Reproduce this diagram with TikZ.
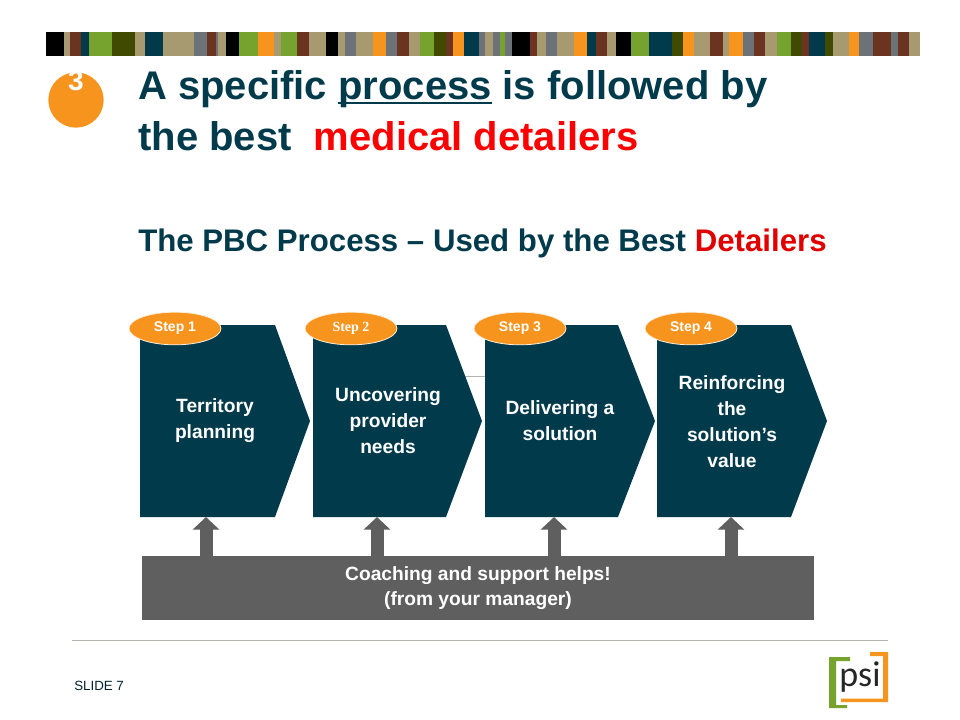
\documentclass[tikz,border=0pt]{standalone}
\usepackage{fontspec}
\setmainfont{Liberation Sans}
\newfontfamily\serifbold{Liberation Serif}
\newfontfamily\logofont{Carlito}
\usetikzlibrary{arrows.meta}
\definecolor{teal}{HTML}{003A4B}
\definecolor{orng}{HTML}{F7941E}
\definecolor{grn}{HTML}{76A32D}
\definecolor{olv}{HTML}{404A00}
\definecolor{brn}{HTML}{6B3420}
\definecolor{tan}{HTML}{A89A70}
\definecolor{gry}{HTML}{6C7378}
\definecolor{darkgr}{HTML}{5F5F5F}
\definecolor{rulegr}{HTML}{B5B5B0}
\newcommand{\fs}[1]{\fontsize{#1*0.75pt}{#1*0.75pt}\selectfont}
\newcommand{\ulword}[1]{{\setbox0\hbox{#1}\rlap{\rule[-0.11em]{\wd0}{0.065em}}\box0}}
\tikzset{
  chevronshape/.style={fill=teal,draw=none},
  chevlabel/.style={text=white,font=\bfseries\fontsize{14.4pt}{19.5pt}\selectfont,align=center,inner sep=0pt},
  stepoval/.style={ellipse,fill=orng,draw=white!85!orng,line width=0.6pt,minimum width=69pt,minimum height=24.5pt,inner sep=0pt,text=white},
  blockarrow/.style={draw=darkgr,line width=9.75pt,-{Triangle[length=9.5pt,width=19.5pt,fill=darkgr]}},
  titletext/.style={anchor=base west,inner sep=0pt,text=teal,font=\bfseries\fontsize{30pt}{36pt}\selectfont},
}
\usetikzlibrary{shapes.geometric}
\begin{document}
\begin{tikzpicture}[x=0.75pt,y=-0.75pt]
\useasboundingbox (0,0) rectangle (960,720);
\fill[white] (0,0) rectangle (960,720);
% stripe bar
\def\prevx{46}
\foreach \c/\e in {black/64,tan/70,brn/81,teal/89,grn/112,olv/135,tan/145,teal/163,tan/194,gry/207,brn/216,gry/218,tan/226,black/239,grn/258,orng/274,tan/281,grn/297,brn/309,tan/326,black/338,tan/345,gry/356,tan/373,orng/386,gry/397,brn/409,tan/420,grn/434,olv/446,brn/453,orng/464,teal/479,gry/485,tan/493,gry/500,grn/505,gry/512,black/530,brn/537,tan/546,gry/557,tan/574,orng/587,teal/596,brn/607,tan/616,black/631,grn/649,teal/672,olv/683,orng/694,tan/710,brn/723,tan/729,orng/743,gry/754,brn/765,tan/777,grn/791,olv/802,brn/809,teal/825,olv/833,tan/849,orng/859,gry/873,brn/891,gry/898,brn/909,tan/920}{
  \fill[\c] (\prevx,32) rectangle (\e,56);
  \global\let\prevx\e
}
% number badge
\node[circle,fill=orng,minimum size=41.5pt,inner sep=0pt] (badge) at (76,100) {};
\node[anchor=base,inner sep=0pt,text=white,font=\bfseries\fontsize{21pt}{24pt}\selectfont] (num) at (76,91) {3};
% titles
\node[titletext] (t1) at (138,100) {A specific \ulword{process} is followed by};
\node[titletext] (t2) at (138,151) {the best\ \ \textcolor{red}{medical detailers}};
\node[titletext,font=\bfseries\fontsize{23.4pt}{28pt}\selectfont] (t3) at (138,252) {The PBC Process -- Used by the Best \textcolor{red!88!black}{Detailers}};
% thin line behind chevrons
\coordinate (la) at (460,376);
\coordinate (lb) at (490,376);
\draw[rulegr,line width=0.6pt] (la) -- (lb);
% chevrons
\fill[chevronshape] (140,325) -- (275,325) -- (310,421) -- (275,517) -- (140,517) -- cycle;
\fill[chevronshape] (313,325) -- (446,325) -- (482,421) -- (446,517) -- (313,517) -- cycle;
\fill[chevronshape] (485,325) -- (618,325) -- (655,421) -- (618,517) -- (485,517) -- cycle;
\fill[chevronshape] (657,325) -- (791,325) -- (827,421) -- (791,517) -- (657,517) -- cycle;
\node[chevlabel] (c1) at (215,421) {Territory\\planning};
\node[chevlabel] (c2) at (388,421) {Uncovering\\provider\\needs};
\node[chevlabel] (c3) at (560,421) {Delivering a\\solution};
\node[chevlabel] (c4) at (732,422) {Reinforcing\\the\\solution’s\\value};
% step ovals
\node[stepoval,font=\bfseries\fontsize{10.5pt}{12pt}\selectfont] (s1) at (175,328.5) {Step 1};
\node[stepoval,font=\serifbold\bfseries\fontsize{10.5pt}{12pt}\selectfont] (s2) at (351,328.5) {Step 2};
\node[stepoval,font=\bfseries\fontsize{10.5pt}{12pt}\selectfont] (s3) at (520,328.5) {Step 3};
\node[stepoval,font=\bfseries\fontsize{10.5pt}{12pt}\selectfont] (s4) at (691,328.5) {Step 4};
% coaching bar
\node[fill=darkgr,text=white,minimum width=504pt,minimum height=48pt,inner sep=0pt,align=center,font=\bfseries\fontsize{14.4pt}{19pt}\selectfont] (bar) at (478,588) {Coaching and support helps!\\(from your manager)};
% arrows
\coordinate (a1) at (206,517);
\coordinate (a2) at (377,517);
\coordinate (a3) at (554,517);
\coordinate (a4) at (731,517);
\foreach \a in {a1,a2,a3,a4}{
  \draw[blockarrow] (\a |- bar.north) -- (\a);
}
% footer
\coordinate (ra) at (72,640);
\coordinate (rb) at (888,640);
\draw[rulegr,line width=0.75pt] (ra) -- (rb);
\node[anchor=base west,inner sep=0pt,text=teal!60!black,font=\fontsize{10pt}{12pt}\selectfont] (slide) at (74,690) {SLIDE 7};
% logo
\fill[grn] (850,657) -- (829,657) -- (829,708) -- (847,708) -- (847,705) -- (836,705) -- (836,661) -- (850,661) -- cycle;
\fill[orng] (870,652) -- (888,652) -- (888,702) -- (841,702) -- (841,698.5) -- (883,698.5) -- (883,656) -- (870,656) -- cycle;
\node[inner sep=0pt,text=black!85,font=\logofont\fontsize{27pt}{30pt}\selectfont] (logo) at (860,677) {psi};
\end{tikzpicture}
\end{document}
